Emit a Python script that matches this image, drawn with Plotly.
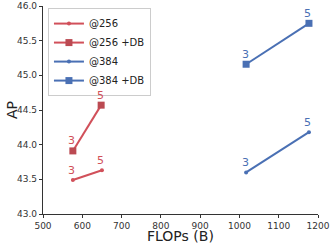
import plotly.graph_objects as go

flops_256 = [576, 650]
ap_256 = [43.49, 43.63]
flops_256_db = [576, 648]
ap_256_db = [43.91, 44.57]
flops_384 = [1017, 1177]
ap_384 = [43.60, 44.18]
flops_384_db = [1017, 1177]
ap_384_db = [45.16, 45.75]
point_labels = ["3", "5"]

red_line = "#d1505a"
red_mark = "#bb4a52"
blue = "#4a70b4"

series = [
    ("@256", flops_256, ap_256, red_line, red_line, "circle", 4),
    ("@256 +DB", flops_256_db, ap_256_db, red_line, red_mark, "square", 7),
    ("@384", flops_384, ap_384, blue, blue, "circle", 4),
    ("@384 +DB", flops_384_db, ap_384_db, blue, blue, "square", 7),
]

fig = go.Figure()
for name, xs, ys, lc, mc, sym, sz in series:
    fig.add_trace(go.Scatter(
        x=xs, y=ys, name=name, mode="lines+markers",
        line=dict(color=lc, width=2),
        marker=dict(color=mc, symbol=sym, size=sz),
    ))
    for xv, yv, lab in zip(xs, ys, point_labels):
        fig.add_annotation(x=xv, y=yv, text=lab, showarrow=False,
                           yshift=10, xshift=-1,
                           font=dict(family="DejaVu Sans", size=11, color=lc))

axis_common = dict(
    showline=True, linecolor="#333333", linewidth=1.2, mirror=False,
    ticks="outside", ticklen=3, tickcolor="#333333",
    showgrid=False, zeroline=False, automargin=False,
    tickfont=dict(family="DejaVu Sans", size=9, color="#333333"),
)

# axis titles as paper annotations
fig.add_annotation(text="FLOPs (B)", xref="paper", yref="paper", x=0.5, y=0,
                   yshift=-22, yanchor="middle", showarrow=False,
                   font=dict(family="DejaVu Sans", size=14, color="#222222"))
fig.add_annotation(text="AP", xref="paper", yref="paper", x=0, y=0.5,
                   xshift=-31, xanchor="center", textangle=-90, showarrow=False,
                   font=dict(family="DejaVu Sans", size=14, color="#222222"))

fig.update_layout(
    width=333, height=245,
    margin=dict(l=43, r=15, t=6, b=31),
    plot_bgcolor="white", paper_bgcolor="white",
    showlegend=True,
    legend=dict(x=0.018, y=0.99, xanchor="left", yanchor="top",
                bordercolor="#cccccc", borderwidth=1, bgcolor="white",
                font=dict(family="DejaVu Sans", size=10, color="#222222"),
                tracegroupgap=0, itemwidth=30),
    xaxis=dict(range=[500, 1200], dtick=100, **axis_common),
    yaxis=dict(range=[43.0, 46.0], dtick=0.5, tickformat=".1f", **axis_common),
)

fig.write_html("out.html", config={"displayModeBar": False},
               post_script="document.body.style.margin='0px';")
